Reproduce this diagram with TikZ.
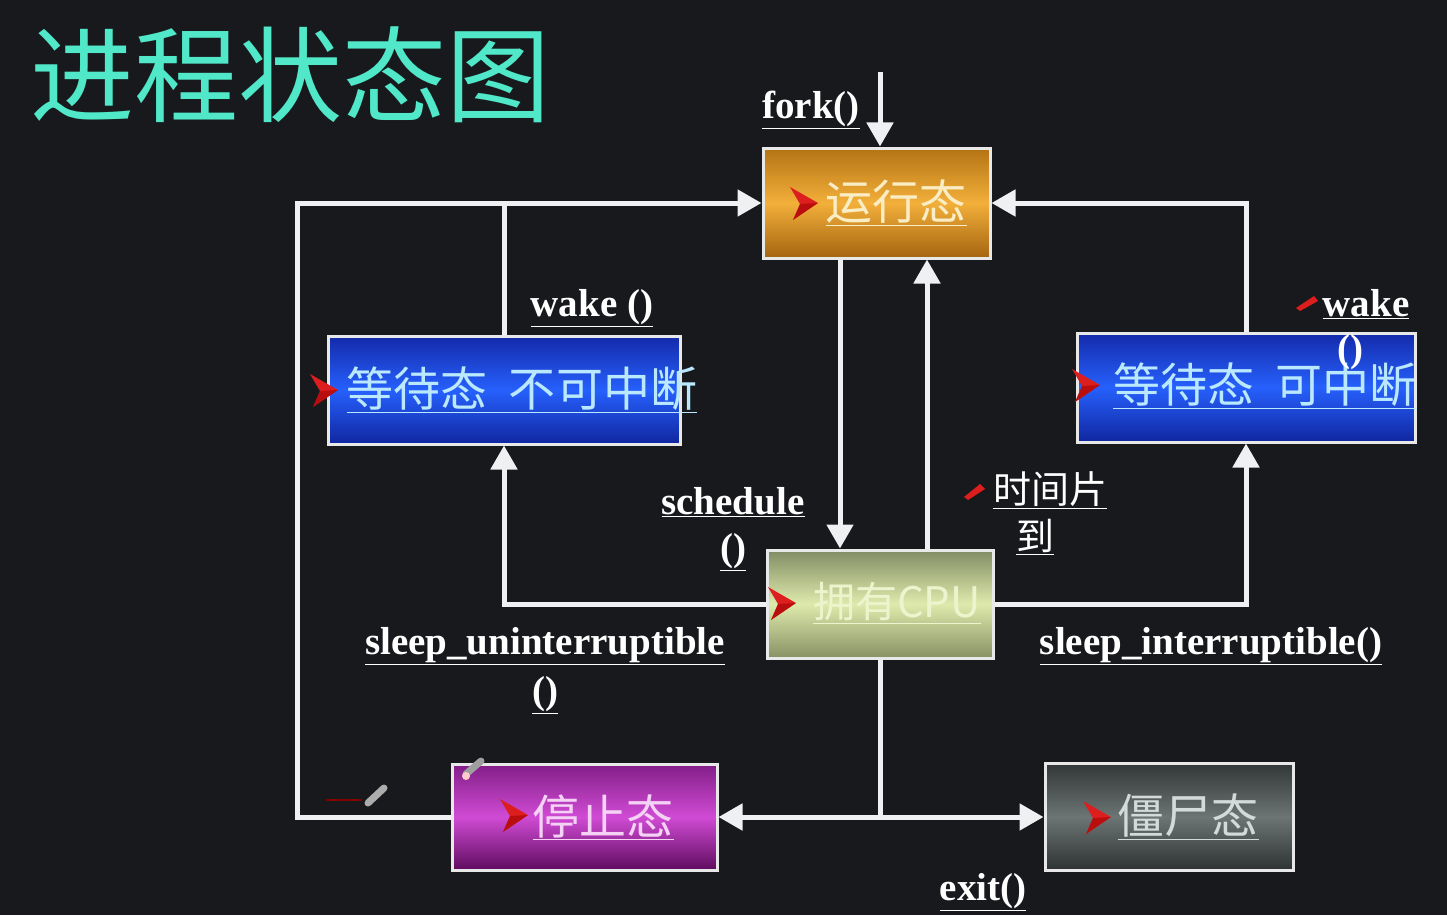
\documentclass[tikz,border=0pt]{standalone}
\usepackage{fontspec}
\setmainfont{Liberation Serif}
\newfontfamily\cjk{Noto Sans CJK SC}
\usetikzlibrary{arrows.meta,calc}
\definecolor{bg}{RGB}{24,25,29}
\definecolor{titlec}{RGB}{80,232,200}
\definecolor{wirec}{RGB}{238,240,242}
\definecolor{boxline}{RGB}{232,232,232}
\definecolor{mred}{RGB}{220,30,30}
\begin{document}
\begin{tikzpicture}[x=1pt,y=-1pt,
  box/.style={draw=boxline, line width=3pt, inner sep=0pt},
  btext/.style={font=\cjk\fontsize{47}{50}\selectfont, inner sep=0pt},
  lbl/.style={font=\bfseries\fontsize{39}{44}\selectfont, text=white, inner sep=0pt},
  clbl/.style={font=\cjk\fontsize{38}{42}\selectfont, text=white, inner sep=0pt},
  wire/.style={draw=wirec, line width=5pt},
  arr/.style={draw=wirec, line width=5pt, -{Triangle[length=24pt,width=26pt]}},
  rmark/.pic={\fill[mred] (0,0) -- (-28,-16) -- (-18,1) -- (-25,17) -- cycle;
              \fill[red!60!black,opacity=0.5] (0,0) -- (-18,1) -- (-25,17) -- cycle;}
]
\useasboundingbox (0,0) rectangle (1447,915);
\fill[bg] (0,0) rectangle (1447,915);

% title
\node[font=\cjk\fontsize{104}{110}\selectfont, text=titlec, inner sep=0pt] (title) at (290,75) {进程状态图};

% boxes
\node[box, minimum width=227pt, minimum height=110pt,
  top color={rgb,255:red,180;green,115;blue,20}, bottom color={rgb,255:red,165;green,100;blue,16}, middle color={rgb,255:red,242;green,175;blue,58}] (run) at (876.5,203) {};
\node[box, minimum width=352pt, minimum height=108pt,
  top color={rgb,255:red,20;green,42;blue,170}, bottom color={rgb,255:red,16;green,38;blue,160}, middle color={rgb,255:red,38;green,96;blue,252}] (wu) at (504,390) {};
\node[box, minimum width=338pt, minimum height=109pt,
  top color={rgb,255:red,20;green,42;blue,170}, bottom color={rgb,255:red,16;green,38;blue,160}, middle color={rgb,255:red,38;green,96;blue,252}] (wi) at (1246,387.5) {};
\node[box, minimum width=226pt, minimum height=108pt,
  top color={rgb,255:red,130;green,140;blue,100}, bottom color={rgb,255:red,135;green,145;blue,100}, middle color={rgb,255:red,222;green,234;blue,172}] (cpu) at (880,604) {};
\node[box, minimum width=265pt, minimum height=106pt,
  top color={rgb,255:red,130;green,30;blue,135}, bottom color={rgb,255:red,95;green,12;blue,95}, middle color={rgb,255:red,208;green,75;blue,212}] (stop) at (584.5,817) {};
\node[box, minimum width=248pt, minimum height=107pt,
  top color={rgb,255:red,50;green,55;blue,55}, bottom color={rgb,255:red,45;green,50;blue,50}, middle color={rgb,255:red,108;green,116;blue,116}] (zombie) at (1169,817) {};

% box texts
\node[btext, text={rgb,255:red,250;green,236;blue,195}] (runT) at (896,203) {\underline{运行态}};
\node[btext, text={rgb,255:red,185;green,232;blue,255}] (wuT) at (522,390) {\underline{等待态\ \ 不可中断}};
\node[btext, text={rgb,255:red,185;green,232;blue,255}] (wiT) at (1265,386) {\underline{等待态\ \ 可中断}};
\node[btext, font=\cjk\fontsize{42}{46}\selectfont, text={rgb,255:red,236;green,244;blue,205}] (cpuT) at (897,603) {\underline{拥有CPU}};
\node[btext, text={rgb,255:red,245;green,210;blue,245}] (stopT) at (603,817) {\underline{停止态}};
\node[btext, text={rgb,255:red,210;green,218;blue,218}] (zombieT) at (1188,817) {\underline{僵尸态}};

% red markers
\pic at (818,203) {rmark};
\pic at (338,390) {rmark};
\pic at (1100,385) {rmark};
\pic at (796,603) {rmark};
\pic at (528,815) {rmark};
\pic at (1111,817) {rmark};
\fill[mred] (1296,308) -- (1314,296) -- (1318,301) -- (1300,311) -- cycle;
\fill[mred] (964,497) -- (980,484) -- (985,489) -- (968,500) -- cycle;

% pencil marks
\draw[red!50!black, line width=1.5pt] (326,800) -- (362,800);
\draw[gray!65, line width=7pt, line cap=round] (368,803) -- (384,788);
\draw[gray!75, line width=7pt, line cap=round] (466,774) -- (481,761);
\fill[pink!80] (466,776) circle (4);

% helper coordinates
\coordinate (forkTop) at (880,72);
\coordinate (x297) at (297,0);
\coordinate (x840) at (840,0);
\coordinate (x927) at (927,0);

% connectors
\draw[arr] (forkTop) -- (run.north -| forkTop);
\draw[arr] (stop.west) -| (run.west -| x297) -- (run.west);
\draw[wire] (wu.north) -- (run.west -| wu.north);
\draw[arr] (wi.north) |- (run.east);
\draw[arr] (run.south -| x840) -- (cpu.north -| x840);
\draw[arr] (cpu.north -| x927) -- (run.south -| x927);
\draw[arr] (cpu.west) -| (wu.south);
\draw[arr] (cpu.east) -| (wi.south);
\coordinate (jn) at (cpu.south |- stop.east);
\draw[wire] (cpu.south) -- (jn);
\draw[arr] (jn) -- (stop.east);
\draw[arr] (jn) -- (zombie.west);

% labels
\node[lbl] (forkL) at (811,110) {\underline{fork()}};
\node[lbl] (wakeL) at (592,308) {\underline{wake ()}};
\node[lbl] (wakeR) at (1366,304) {\underline{wake}};
\node[lbl] (wakeRp) at (1350,352) {()};
\node[lbl] (schedL) at (733,502) {\underline{schedule}};
\node[lbl] (schedP) at (733,552) {\underline{()}};
\node[clbl] (sliceL) at (1050,490) {\underline{时间片}};
\node[clbl] (sliceL2) at (1035,537) {\underline{到}};
\node[lbl] (sleepU) at (545,646) {\underline{sleep\_uninterruptible}};
\node[lbl] (sleepUp) at (545,695) {\underline{()}};
\node[lbl] (sleepI) at (1211,646) {\underline{sleep\_interruptible()}};
\node[lbl] (exitL) at (983,892) {\underline{exit()}};
\end{tikzpicture}
\end{document}
